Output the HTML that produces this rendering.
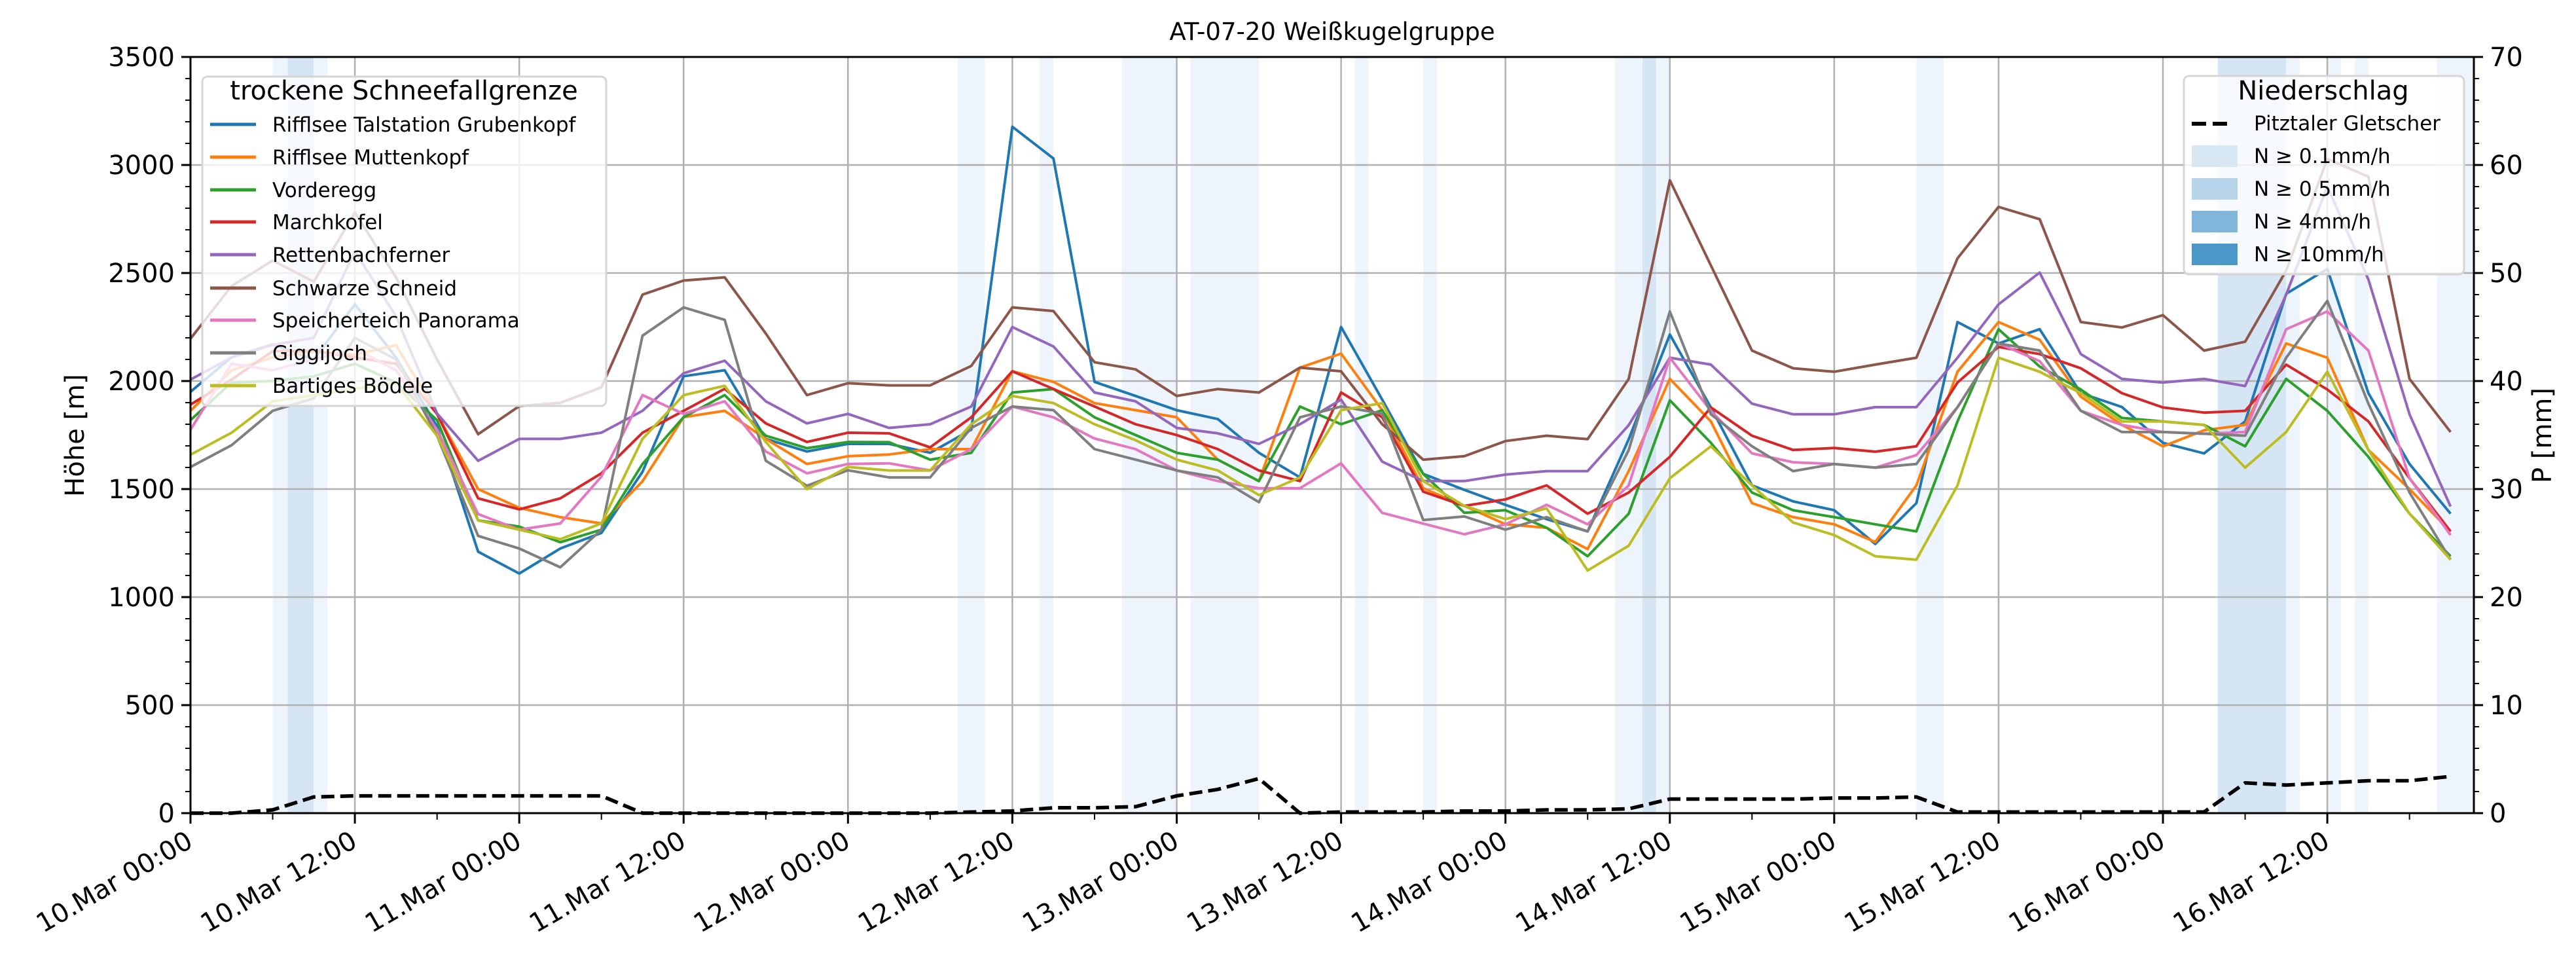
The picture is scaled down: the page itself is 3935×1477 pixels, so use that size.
<!DOCTYPE html>
<html><head><meta charset="utf-8">
<style>
html,body{margin:0;padding:0;background:#fff;}
svg{display:block;font-family:"DejaVu Sans","Liberation Sans",sans-serif;}
</style></head>
<body>
<svg id="chart" width="3935" height="1477" viewBox="0 0 3935 1477" xmlns="http://www.w3.org/2000/svg">
<rect x="0" y="0" width="3935" height="1477" fill="#fff"/>
<g id="bands"></g>
<g id="grid"></g>
<g id="series"></g>
<g id="axes"></g>
<g id="legends"></g>
</svg>
<script>
// hours since 10.Mar 00:00, step 3h
const hours = [0,3,6,9,12,15,18,21,24,27,30,33,36,39,42,45,48,51,54,57,60,63,66,69,72,75,78,81,84,87,90,93,96,99,102,105,108,111,114,117,120,123,126,129,132,135,138,141,144,147,150,153,156,159,162,165];
const seriesNames = ["Rifflsee Talstation Grubenkopf","Rifflsee Muttenkopf","Vorderegg","Marchkofel","Rettenbachferner","Schwarze Schneid","Speicherteich Panorama","Giggijoch","Bartiges Bödele"];
const blueVals = [1950,2110,2170,2100,2355,2109,1790,1210,1109,1225,1297,1580,2022,2050,1732,1674,1709,1709,1668,1775,3177,3030,1996,1931,1865,1824,1668,1554,2250,1914,1570,1496,1427,1361,1304,1731,2215,1878,1517,1443,1402,1246,1435,2273,2174,2240,1944,1880,1714,1665,1813,2404,2519,1944,1616,1386];
const orangeVals = [1862,2050,2109,2138,2120,2167,1848,1500,1413,1370,1341,1536,1833,1862,1732,1616,1652,1660,1685,1685,2045,1996,1898,1865,1832,1636,1537,2062,2127,1865,1504,1422,1337,1321,1222,1583,2010,1813,1435,1370,1337,1255,1517,2043,2273,2191,1928,1797,1698,1772,1797,2174,2108,1681,1500,1304];
const greenVals = [1819,1993,2000,2022,2080,1993,1819,1355,1326,1254,1312,1616,1833,1935,1747,1689,1718,1717,1636,1668,1947,1963,1832,1750,1668,1636,1537,1882,1800,1865,1570,1390,1402,1321,1189,1386,1911,1714,1484,1402,1370,1337,1304,1813,2240,2067,1961,1829,1813,1797,1698,2010,1862,1649,1386,1189];
const redVals = [1891,2007,2138,2140,2109,2080,1848,1457,1406,1457,1573,1761,1862,1964,1804,1718,1761,1758,1693,1832,2045,1963,1882,1800,1750,1685,1586,1537,1947,1832,1488,1422,1452,1517,1386,1484,1649,1878,1747,1681,1690,1673,1698,1993,2158,2125,2059,1944,1878,1854,1862,2076,1961,1813,1550,1304];
const purpleVals = [2007,2109,2167,2200,2600,2300,1850,1631,1732,1732,1761,1862,2036,2094,1906,1804,1848,1783,1800,1882,2250,2160,1947,1906,1783,1758,1709,1800,1914,1627,1537,1537,1567,1583,1583,1796,2108,2076,1895,1846,1846,1879,1879,2108,2355,2502,2125,2010,1993,2010,1977,2400,2900,2470,1846,1419];
const brownVals = [2196,2440,2558,2460,2780,2480,2100,1754,1884,1899,1971,2400,2465,2480,2220,1935,1990,1980,1980,2070,2341,2324,2087,2054,1931,1963,1947,2062,2045,1800,1636,1652,1722,1747,1731,2010,2929,2535,2141,2059,2043,2076,2108,2568,2806,2749,2273,2248,2305,2141,2182,2511,3028,2946,2010,1764];
const pinkVals = [1775,2080,2050,2100,2150,2050,1775,1384,1312,1341,1558,1935,1848,1906,1674,1573,1616,1619,1586,1685,1882,1832,1734,1685,1586,1537,1504,1504,1619,1390,1340,1291,1337,1427,1337,1517,2108,1862,1665,1624,1616,1599,1657,1879,2174,2092,1862,1797,1764,1756,1764,2240,2322,2141,1550,1287];
const grayVals = [1602,1703,1862,1920,2200,2100,1747,1283,1225,1138,1312,2210,2341,2283,1631,1515,1587,1554,1554,1783,1882,1865,1685,1636,1586,1554,1439,1832,1882,1849,1357,1373,1312,1370,1304,1681,2322,1846,1698,1583,1616,1599,1616,1879,2174,2141,1862,1764,1764,1756,1747,2108,2371,1895,1484,1173];
const oliveVals = [1659,1761,1906,1935,1964,1990,1747,1355,1312,1268,1341,1732,1935,1978,1718,1500,1602,1586,1586,1800,1931,1898,1800,1726,1636,1586,1472,1554,1865,1898,1537,1422,1361,1411,1123,1238,1550,1698,1517,1345,1287,1189,1173,1517,2108,2043,1944,1813,1813,1797,1599,1764,2043,1681,1386,1173];
const precipVals = [0,0,0.3,1.5,1.6,1.6,1.6,1.6,1.6,1.6,1.6,0,0,0,0,0,0,0,0,0.1,0.2,0.5,0.5,0.6,1.6,2.2,3.2,0,0.1,0.1,0.1,0.2,0.2,0.3,0.3,0.4,1.3,1.3,1.3,1.3,1.4,1.4,1.5,0.1,0.1,0.1,0.1,0.1,0.1,0.1,2.8,2.6,2.8,3.0,3.0,3.4];
const bandStarts = [6,7.1,9,56,62,68,73,85,90,104,106,107,126,148,153,156,158,164];
const bandEnds   = [7.1,9,10,58,63,72,78,86,91,106,107,108,128,153,154,157,159,166.7];
const bandLevels = [0,1,0,0,0,0,0,0,0,0,1,0,0,1,0,0,0,0];
const yTicks = [0,500,1000,1500,2000,2500,3000,3500];
const pTicks = [0,10,20,30,40,50,60,70];
const xTickHours = [0,12,24,36,48,60,72,84,96,108,120,132,144,156];
const xTickLabels = ["10.Mar 00:00","10.Mar 12:00","11.Mar 00:00","11.Mar 12:00","12.Mar 00:00","12.Mar 12:00","13.Mar 00:00","13.Mar 12:00","14.Mar 00:00","14.Mar 12:00","15.Mar 00:00","15.Mar 12:00","16.Mar 00:00","16.Mar 12:00"];

const allVals=[blueVals,orangeVals,greenVals,redVals,purpleVals,brownVals,pinkVals,grayVals,oliveVals];
const colors=["#1f77b4","#ff7f0e","#2ca02c","#d62728","#9467bd","#8c564b","#e377c2","#7f7f7f","#bcbd22"];
const L=291,R=3779,T=87,B=1242,HMAX=166.7;
const xs=h=>L+(R-L)*h/HMAX;
const ys=v=>B-(B-T)*v/3500;
const yp=v=>B-(B-T)*v/70;
const NS="http://www.w3.org/2000/svg";
function mk(tag,attrs,parent){const e=document.createElementNS(NS,tag);for(const k in attrs)e.setAttribute(k,attrs[k]);parent.appendChild(e);return e;}
const gB=document.getElementById('bands'),gG=document.getElementById('grid'),gS=document.getElementById('series'),gA=document.getElementById('axes'),gL=document.getElementById('legends');
const bandCols=["#eef4fb","#d6e5f3"];
bandStarts.forEach((s,i)=>{
  const r=mk('rect',{x:xs(s),y:T,width:xs(bandEnds[i])-xs(s),height:B-T,fill:bandCols[bandLevels[i]]},gB);
  
  
});
xTickHours.forEach(h=>{const l=mk('line',{x1:xs(h),x2:xs(h),y1:T,y2:B,stroke:"#b0b0b0","stroke-width":2.5},gG);
  });
yTicks.forEach(v=>{const l=mk('line',{x1:L,x2:R,y1:ys(v),y2:ys(v),stroke:"#b0b0b0","stroke-width":2.5},gG);
  });
allVals.forEach((vals,si)=>{
  const d=vals.map((v,i)=>(i?'L':'M')+xs(hours[i]).toFixed(1)+','+ys(v).toFixed(1)).join(' ');
  const p=mk('path',{d:d,fill:"none",stroke:colors[si],"stroke-width":4,"stroke-linejoin":"round"},gS);
  
  
});
{
  const d=precipVals.map((v,i)=>(i?'L':'M')+xs(hours[i]).toFixed(1)+','+yp(v).toFixed(1)).join(' ');
  const p=mk('path',{d:d,fill:"none",stroke:"#000","stroke-width":5.5,"stroke-dasharray":"20,9"},gS);
  
  
}
// axes frame
const fr=mk('rect',{x:L,y:T,width:R-L,height:B-T,fill:"none",stroke:"#000","stroke-width":3},gA);

for(let v=0;v<=3500;v+=100){const major=v%500===0;mk('line',{x1:L,x2:L-(major?14:8),y1:ys(v),y2:ys(v),stroke:"#000","stroke-width":major?3:2},gA);}
yTicks.forEach(v=>{const t=mk('text',{x:L-24,y:ys(v)+14,"text-anchor":"end","font-size":40},gA);t.textContent=v;
  });
for(let v=0;v<=70;v+=2){const major=v%10===0;mk('line',{x1:R,x2:R+(major?14:8),y1:yp(v),y2:yp(v),stroke:"#000","stroke-width":major?3:2},gA);}
pTicks.forEach(v=>{const t=mk('text',{x:R+24,y:yp(v)+14,"font-size":40},gA);t.textContent=v;
  });
for(let h=0;h<=HMAX;h+=6){const major=h%12===0;mk('line',{x1:xs(h),x2:xs(h),y1:B,y2:B+(major?16:10),stroke:"#000","stroke-width":major?3:2},gA);}
xTickHours.forEach((h,i)=>{const t=mk('text',{x:0,y:0,"text-anchor":"end","font-size":40,transform:`translate(${xs(h)+6},${B+50}) rotate(-30)`},gA);
  t.textContent=xTickLabels[i];});
</script>
<svg style="position:absolute;left:0;top:0" width="3935" height="1477">
<text x="2035" y="61" text-anchor="middle" font-size="37" font-family="DejaVu Sans, Liberation Sans, sans-serif">AT-07-20 Weißkugelgruppe</text>
<text transform="translate(128,665) rotate(-90)" text-anchor="middle" font-size="40" font-family="DejaVu Sans, Liberation Sans, sans-serif">Höhe [m]</text>
<text transform="translate(3897,665) rotate(-90)" text-anchor="middle" font-size="40" font-family="DejaVu Sans, Liberation Sans, sans-serif">P [mm]</text>
<g font-family="DejaVu Sans, Liberation Sans, sans-serif">
<rect x="309" y="117" width="617" height="503" rx="8" fill="#fff" fill-opacity="0.8" stroke="#d5d5d5" stroke-width="3"/>
<text x="617" y="152" text-anchor="middle" font-size="40">trockene Schneefallgrenze</text>
<g font-size="31">
<line x1="321" x2="391" y1="190" y2="190" stroke="#1f77b4" stroke-width="5"/><text x="416" y="201">Rifflsee Talstation Grubenkopf</text>
<line x1="321" x2="391" y1="240" y2="240" stroke="#ff7f0e" stroke-width="5"/><text x="416" y="251">Rifflsee Muttenkopf</text>
<line x1="321" x2="391" y1="290" y2="290" stroke="#2ca02c" stroke-width="5"/><text x="416" y="301">Vorderegg</text>
<line x1="321" x2="391" y1="339" y2="339" stroke="#d62728" stroke-width="5"/><text x="416" y="350">Marchkofel</text>
<line x1="321" x2="391" y1="389" y2="389" stroke="#9467bd" stroke-width="5"/><text x="416" y="400">Rettenbachferner</text>
<line x1="321" x2="391" y1="440" y2="440" stroke="#8c564b" stroke-width="5"/><text x="416" y="451">Schwarze Schneid</text>
<line x1="321" x2="391" y1="489" y2="489" stroke="#e377c2" stroke-width="5"/><text x="416" y="500">Speicherteich Panorama</text>
<line x1="321" x2="391" y1="539" y2="539" stroke="#7f7f7f" stroke-width="5"/><text x="416" y="550">Giggijoch</text>
<line x1="321" x2="391" y1="589" y2="589" stroke="#bcbd22" stroke-width="5"/><text x="416" y="600">Bartiges Bödele</text>
</g></g>
<g font-family="DejaVu Sans, Liberation Sans, sans-serif">
<rect x="3336" y="116" width="428" height="303" rx="8" fill="#fff" fill-opacity="0.8" stroke="#d5d5d5" stroke-width="3"/>
<text x="3549" y="152" text-anchor="middle" font-size="40">Niederschlag</text>
<g font-size="31">
<line x1="3348" x2="3408" y1="189" y2="189" stroke="#000" stroke-width="6" stroke-dasharray="22,10"/><text x="3443" y="199">Pitztaler Gletscher</text>
<rect x="3348" y="222" width="70" height="33" fill="#d7e7f3"/><text x="3443" y="249">N ≥ 0.1mm/h</text>
<rect x="3348" y="272" width="70" height="33" fill="#b7d4ea"/><text x="3443" y="299">N ≥ 0.5mm/h</text>
<rect x="3348" y="322" width="70" height="33" fill="#7fb6d9"/><text x="3443" y="349">N ≥ 4mm/h</text>
<rect x="3348" y="372" width="70" height="33" fill="#4b98c9"/><text x="3443" y="399">N ≥ 10mm/h</text>
</g></g>
</svg>
</body></html>
